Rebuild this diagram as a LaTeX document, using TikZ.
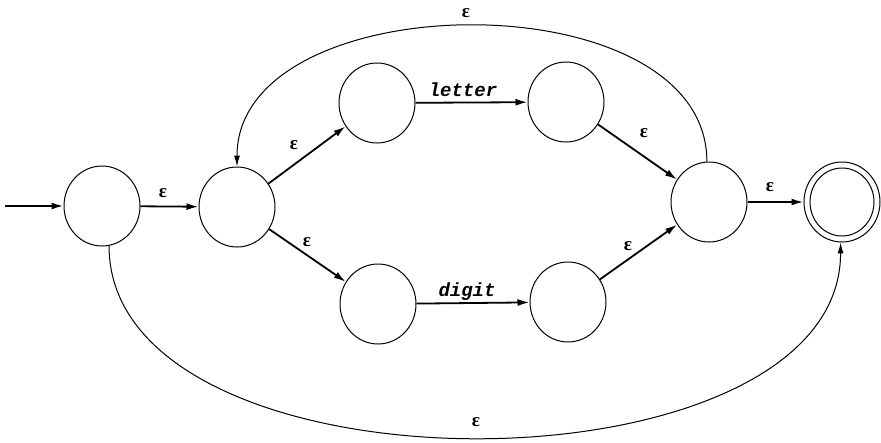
\documentclass[tikz,border=0pt]{standalone}
\usepackage{fontspec}
\setmonofont{Liberation Mono}
\newfontfamily\epsfont{Liberation Serif}
\usetikzlibrary{arrows.meta,shapes.geometric}
\begin{document}
\begin{tikzpicture}[x=1pt,y=-1pt,
  state/.style={ellipse,draw,line width=1pt,minimum width=76pt,minimum height=80pt,inner sep=0pt},
  edge/.style={-{Latex[length=12pt,width=7pt]},line width=1.8pt},
  arc/.style={-{Latex[length=11pt,width=6pt]},line width=1pt},
  eps/.style={font=\fontsize{19}{19}\selectfont\epsfont\bfseries},
  sym/.style={font=\fontsize{19}{19}\selectfont\ttfamily\bfseries\itshape}]
\useasboundingbox (0,0) rectangle (881,442);
\node[state] (n0) at (102,206) {};
\node[state] (n1) at (237,207) {};
\node[state] (n2) at (377,103) {};
\node[state] (n3) at (566,102) {};
\node[state] (n4) at (378,304) {};
\node[state] (n5) at (568,302) {};
\node[state] (n6) at (709,202) {};
\node[state] (n7) at (842,202) {};
\draw[line width=1pt] (n7.center) ellipse (32pt and 34pt);
\coordinate (start) at (5,206);
\draw[edge] (start) -- (n0);
\draw[edge] (n0) -- (n1);
\draw[edge] (n1) -- (n2);
\draw[edge] (n1) -- (n4);
\draw[edge] (n2) -- (n3);
\draw[edge] (n4) -- (n5);
\draw[edge] (n3) -- (n6);
\draw[edge] (n5) -- (n6);
\draw[edge] (n6) -- (n7);
\draw[arc] (n6.93) to[out=90,in=90,looseness=1.0] (n1.90);
\draw[arc] (n0.-80) to[out=-90,in=-90,looseness=0.9] (n7.-92);
\node[eps] (e1) at (163,193) {ε};
\node[eps] (e2) at (294,145) {ε};
\node[eps] (e3) at (466,13) {ε};
\node[sym] (l1) at (463,90) {letter};
\node[eps] (e4) at (644,133) {ε};
\node[eps] (e5) at (770,187) {ε};
\node[eps] (e6) at (307,242) {ε};
\node[sym] (l2) at (467,292) {digit};
\node[eps] (e7) at (628,246) {ε};
\node[eps] (e8) at (476,422) {ε};
\end{tikzpicture}
\end{document}
